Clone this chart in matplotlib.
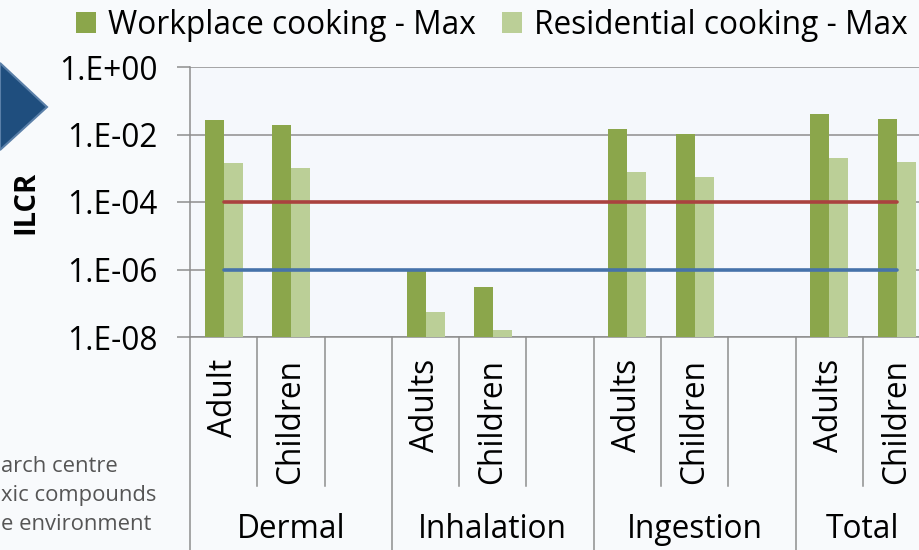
import numpy as np
import matplotlib
matplotlib.use("Agg")
import matplotlib.pyplot as plt
from matplotlib.patches import Patch, Polygon
import matplotlib.transforms as mtransforms

# ---- data ----
slot_labels = ["Adult", "Children", "", "Adults", "Children", "", "Adults", "Children", "", "Adults", "Children"]
group_labels = ["Dermal", "Inhalation", "Ingestion", "Total"]
group_centers = [1, 4, 7, 9.5]
workplace_max = [2.7e-2, 1.9e-2, np.nan, 1.0e-6, 3.0e-7, np.nan, 1.45e-2, 1.03e-2, np.nan, 4.0e-2, 2.9e-2]
residential_max = [1.4e-3, 1.0e-3, np.nan, 5.6e-8, 1.6e-8, np.nan, 7.8e-4, 5.5e-4, np.nan, 2.0e-3, 1.5e-3]
upper_limit = [1e-4, 1e-4, 1e-4, 1e-4, 1e-4, 1e-4, 1e-4, 1e-4, 1e-4, 1e-4, 1e-4]
lower_limit = [1e-6, 1e-6, 1e-6, 1e-6, 1e-6, 1e-6, 1e-6, 1e-6, 1e-6, 1e-6, 1e-6]
ytick_vals = [1e0, 1e-2, 1e-4, 1e-6, 1e-8]
ytick_labels = ["1.E+00", "1.E-02", "1.E-04", "1.E-06", "1.E-08"]
series_names = ["Workplace cooking - Max", "Residential cooking - Max"]

DARK = "#8BA64B"
LIGHT = "#BBCF97"
RED = "#AA423F"
BLUE = "#4673AA"
GRID = "#8E8E8E"
FONT = "Open Sans"
FS = 22.8

W, H = 920, 550
fig = plt.figure(figsize=(W / 100, H / 100), dpi=100, facecolor="#F8FAFC")

# axes: left=190px, top=67px, bottom=337px, slot width 67.3px
x0, top, bot = 190, 67, 337
slot_w = 67.3
ax = fig.add_axes([x0 / W, 1 - bot / H, 11 * slot_w / W, (bot - top) / H])
ax.set_facecolor("#F5F8FC")

x = np.arange(len(slot_labels))
bw = 0.283
ax.bar(x - bw / 2, workplace_max, width=bw, color=DARK, zorder=3)
ax.bar(x + bw / 2, residential_max, width=bw, color=LIGHT, zorder=3)
ax.plot(x, upper_limit, color=RED, lw=2.6, solid_capstyle="round", zorder=4)
ax.plot(x, lower_limit, color=BLUE, lw=2.6, solid_capstyle="round", zorder=4)

ax.set_yscale("log")
ax.set_ylim(1e-8, 1)
ax.set_xlim(-0.5, 10.5)
ax.set_yticks(ytick_vals)
ax.set_yticklabels(ytick_labels, fontsize=FS, family=FONT)
ax.yaxis.set_minor_locator(matplotlib.ticker.NullLocator())
ax.tick_params(axis="y", length=9.5, width=1.1, color=GRID, pad=14)
ax.set_xticks([])
ax.grid(axis="y", color=GRID, lw=1.1, zorder=0)
for s in ["top", "right"]:
    ax.spines[s].set_visible(False)
for s in ["left", "bottom"]:
    ax.spines[s].set_color(GRID)
    ax.spines[s].set_linewidth(1.1)

ax.set_ylabel("ILCR", fontsize=21, fontweight="bold", family=FONT, labelpad=0)
ax.yaxis.label.set_va("center")
ax.yaxis.set_label_coords((26 - x0) / (11 * slot_w), (bot - 202) / (bot - top))

trans = mtransforms.blended_transform_factory(ax.transData, ax.transAxes)
axh = bot - top
short_y = (bot - 486) / axh
long_y = (bot - 552) / axh
for b in np.arange(-0.5, 11, 1.0):
    is_group = b in (-0.5, 2.5, 5.5, 8.5)
    ax.plot([b, b], [0, long_y if is_group else short_y], transform=trans,
            color=GRID, lw=1.1, clip_on=False)

for xi, lab in zip(x, slot_labels):
    if lab:
        ax.text(xi, (bot - 359) / axh, lab, transform=trans, rotation=90,
                ha="center", va="top", fontsize=FS, family=FONT)
for gc, gl in zip(group_centers, group_labels):
    ax.text(gc, (bot - 530) / axh, gl, transform=trans, ha="center", va="center",
            fontsize=FS, family=FONT)

# legend
handles = [Patch(facecolor=DARK), Patch(facecolor=LIGHT)]
fig.legend(handles, series_names, ncol=2, loc="center left",
           bbox_to_anchor=(76 / W, 1 - 25 / H), frameon=False, prop={"family": FONT, "size": FS},
           handlelength=0.62, handleheight=0.62, handletextpad=0.38, columnspacing=0.85,
           borderpad=0, borderaxespad=0)

# decorative slide elements
tri = Polygon([[0, 1 - 63 / H], [47 / W, 1 - 107 / H], [0, 1 - 150 / H]], closed=True,
              transform=fig.transFigure, facecolor="#1F4E7E", edgecolor="#5A7FA8", lw=1.5)
fig.patches.append(tri)
for txt, yc in [("arch centre", 467), ("xic compounds", 496), ("e environment", 524)]:
    fig.text(1.5 / W, 1 - yc / H, txt, ha="left", va="center", fontsize=15.8,
             color="#555555", family="Open Sans")

fig.savefig("out.png", dpi=100, facecolor=fig.get_facecolor())
